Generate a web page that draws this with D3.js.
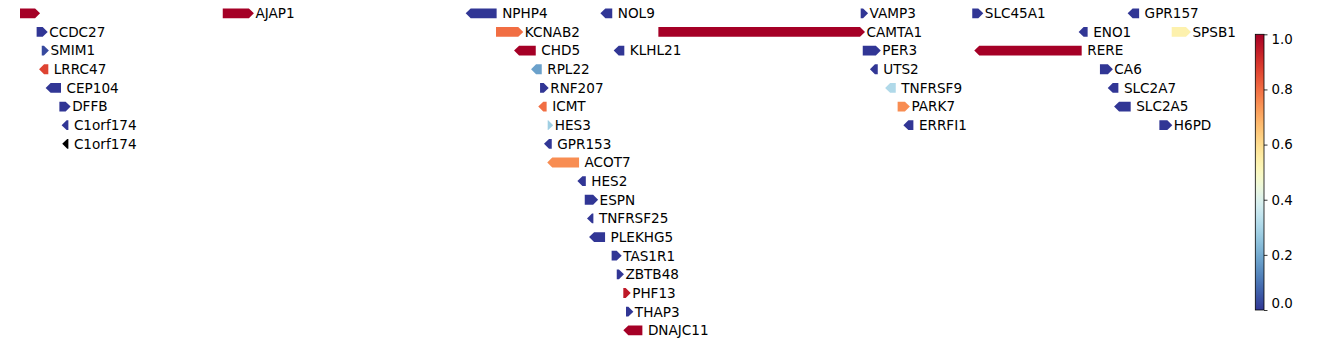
<!DOCTYPE html>
<html>
<head>
<meta charset="utf-8">
<script src="https://cdn.jsdelivr.net/npm/d3@7"></script>
<style>
  body { margin: 0; background: #fff; }
  svg text { font-family: "DejaVu Sans", sans-serif; fill: #000; }
</style>
</head>
<body>
<div id="chart"></div>
<script>
// genes on chr1 (Mb), row in the stacked layout, strand and colour value
var geneNames = ["", "AJAP1", "NPHP4", "NOL9", "VAMP3", "SLC45A1", "GPR157",
  "CCDC27", "KCNAB2", "CAMTA1", "ENO1", "SPSB1",
  "SMIM1", "CHD5", "KLHL21", "PER3", "RERE",
  "LRRC47", "RPL22", "UTS2", "CA6",
  "CEP104", "RNF207", "TNFRSF9", "SLC2A7",
  "DFFB", "ICMT", "PARK7", "SLC2A5",
  "C1orf174", "HES3", "ERRFI1", "H6PD",
  "C1orf174", "GPR153",
  "ACOT7", "HES2", "ESPN", "TNFRSF25", "PLEKHG5", "TAS1R1", "ZBTB48", "PHF13", "THAP3", "DNAJC11"];
var geneStart = [3.660, 4.649, 5.834, 6.491, 7.761, 8.305, 9.063,
  3.741, 5.982, 6.774, 8.824, 9.278,
  3.766, 6.070, 6.556, 7.771, 8.315,
  3.753, 6.153, 7.806, 8.928,
  3.785, 6.197, 7.880, 8.966,
  3.852, 6.188, 7.941, 8.997,
  3.863, 6.234, 7.969, 9.218,
  3.866, 6.216,
  6.232, 6.379, 6.415, 6.426, 6.436, 6.546, 6.571, 6.603, 6.616, 6.603];
var geneEnd = [3.758, 4.801, 5.985, 6.549, 7.797, 8.359, 9.119,
  3.795, 6.115, 7.782, 8.868, 9.372,
  3.801, 6.176, 6.608, 7.859, 8.839,
  3.798, 6.205, 7.844, 8.991,
  3.860, 6.239, 7.932, 9.018,
  3.907, 6.229, 8.001, 9.078,
  3.896, 6.261, 8.018, 9.281,
  3.896, 6.254,
  6.387, 6.420, 6.480, 6.457, 6.514, 6.595, 6.606, 6.639, 6.652, 6.696];
var geneStrand = [1, 1, -1, -1, 1, 1, -1,
  1, 1, 1, -1, 1,
  1, -1, -1, 1, -1,
  -1, -1, -1, 1,
  -1, 1, -1, -1,
  1, -1, 1, -1,
  -1, 1, -1, 1,
  -1, -1,
  -1, -1, 1, -1, -1, 1, 1, 1, 1, -1];
var geneRow = [0, 0, 0, 0, 0, 0, 0,
  1, 1, 1, 1, 1,
  2, 2, 2, 2, 2,
  3, 3, 3, 3,
  4, 4, 4, 4,
  5, 5, 5, 5,
  6, 6, 6, 6,
  7, 7,
  8, 9, 10, 11, 12, 13, 14, 15, 16, 17];
var geneValue = [1.0, 1.0, 0.0, 0.0, 0.0, 0.0, 0.0,
  0.0, 0.8, 1.0, 0.0, 0.54,
  0.03, 1.0, 0.0, 0.0, 1.0,
  0.87, 0.18, 0.0, 0.0,
  0.0, 0.0, 0.31, 0.0,
  0.0, 0.8, 0.75, 0.0,
  0.0, 0.28, 0.0, 0.0,
  null, 0.0,
  0.75, 0.0, 0.0, 0.0, 0.0, 0.0, 0.0, 0.95, 0.0, 1.0];
var colorTicks = [0.0, 0.2, 0.4, 0.6, 0.8, 1.0];

var width = 1338, height = 344;
var svg = d3.select("#chart").append("svg")
  .attr("width", width)
  .attr("height", height);

var x = d3.scaleLinear().domain([3.66, 9.0]).range([20, 1114.7]);
var y = d3.scaleLinear().domain([0, 17]).range([13.3, 330.3]);
var color = function (v) {
  if (v == null) return "#000";
  return d3.interpolateRdYlBu(1 - v);
};

var genes = geneNames.map(function (name, i) {
  return { name: name, start: geneStart[i], end: geneEnd[i], strand: geneStrand[i], row: geneRow[i], value: geneValue[i] };
});

function arrowPath(d) {
  var x0 = x(d.start), x1 = x(d.end), yc = y(d.row);
  var h = 4.9, hl = Math.min(5, x1 - x0);
  if (d.strand > 0) {
    return "M" + x0 + "," + (yc - h) + "L" + (x1 - hl) + "," + (yc - h) + "L" + x1 + "," + yc +
      "L" + (x1 - hl) + "," + (yc + h) + "L" + x0 + "," + (yc + h) + "Z";
  }
  return "M" + x1 + "," + (yc - h) + "L" + (x0 + hl) + "," + (yc - h) + "L" + x0 + "," + yc +
    "L" + (x0 + hl) + "," + (yc + h) + "L" + x1 + "," + (yc + h) + "Z";
}

var g = svg.append("g").attr("class", "genes");
g.selectAll("path")
  .data(genes)
  .enter().append("path")
  .attr("d", arrowPath)
  .attr("fill", function (d) { return color(d.value); });

g.selectAll("text")
  .data(genes)
  .enter().append("text")
  .attr("x", function (d) { return x(d.end) + (d.strand > 0 ? 1.5 : 5.5); })
  .attr("y", function (d) { return y(d.row); })
  .attr("dy", "0.36em")
  .style("font-size", "13.6px")
  .text(function (d) { return d.name; });

/********** COLORBAR **********/
var cb = { x: 1255.3, w: 8.7, top: 34.3, bottom: 310 };
var cy = d3.scaleLinear().domain([0, 1]).range([cb.bottom, cb.top]);

var grad = svg.append("defs").append("linearGradient")
  .attr("id", "cbGrad")
  .attr("x1", 0).attr("y1", 1).attr("x2", 0).attr("y2", 0);
d3.range(0, 1.0001, 0.02).forEach(function (t) {
  grad.append("stop").attr("offset", t).attr("stop-color", color(t));
});

svg.append("rect")
  .attr("x", cb.x).attr("y", cb.top)
  .attr("width", cb.w).attr("height", cb.bottom - cb.top)
  .attr("fill", "url(#cbGrad)")
  .attr("stroke", "#000")
  .attr("stroke-width", 0.8);

var cbAxis = d3.axisRight(cy)
  .tickValues(colorTicks)
  .tickSize(3.5)
  .tickPadding(4)
  .tickFormat(d3.format(".1f"));
var ax = svg.append("g")
  .attr("transform", "translate(" + (cb.x + cb.w) + ",0)")
  .call(cbAxis);
ax.select(".domain").remove();
ax.selectAll(".tick line").attr("stroke", "#000").attr("stroke-width", 0.8);
ax.selectAll(".tick text")
  .style("font-size", "13.4px")
  .style("font-family", "DejaVu Sans, sans-serif")
  .attr("fill", "#000")
  .attr("dy", function (d) { return d === 1 ? "0.7em" : (d === 0 ? "-0.18em" : "0.32em"); });
</script>
</body>
</html>
